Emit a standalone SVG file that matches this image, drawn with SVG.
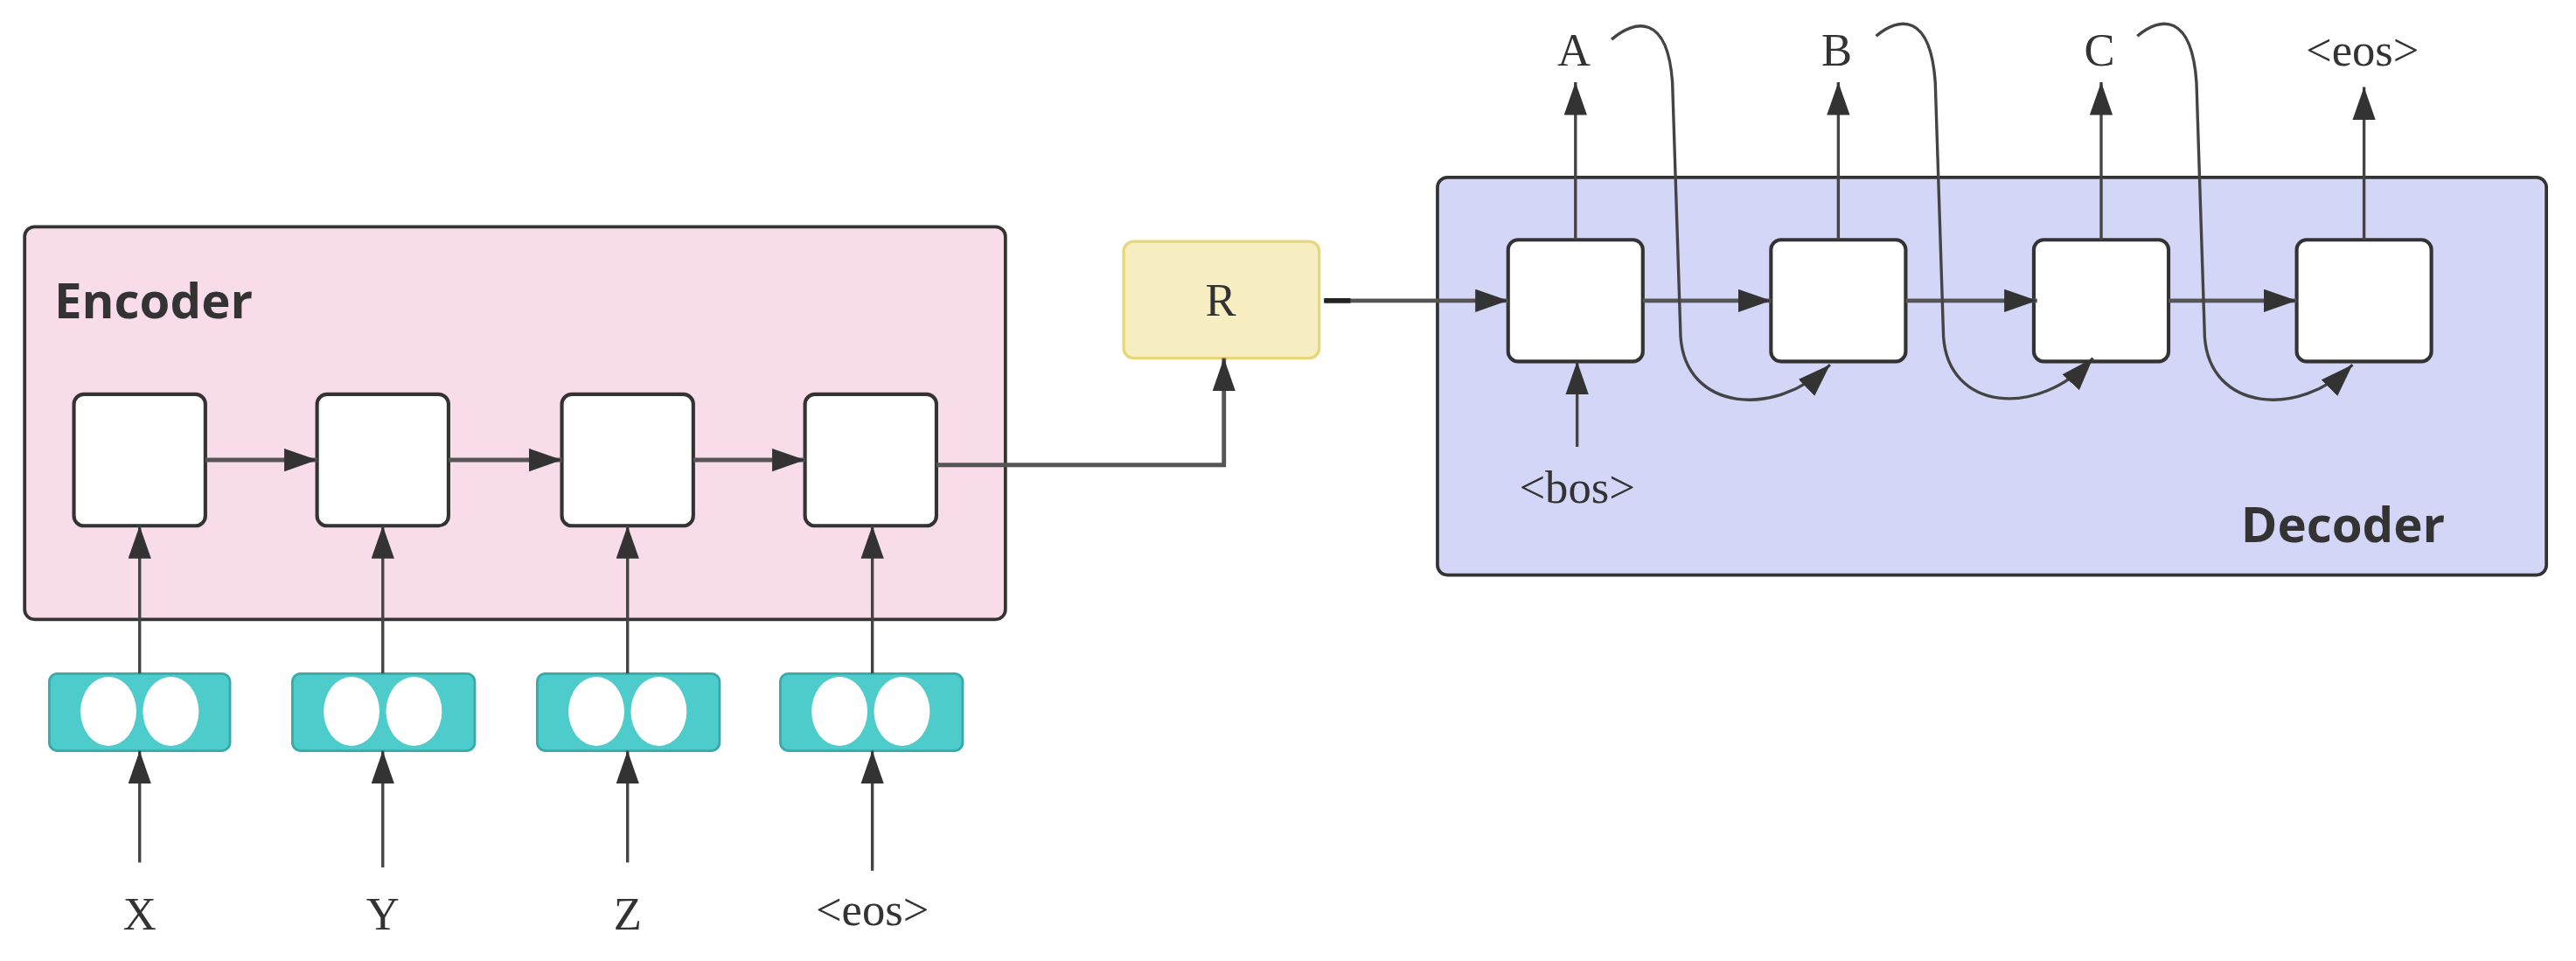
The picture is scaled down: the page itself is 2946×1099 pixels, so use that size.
<svg xmlns="http://www.w3.org/2000/svg" width="2946" height="1099" viewBox="0 0 2946 1099">
<defs>
<marker id="ah" markerUnits="userSpaceOnUse" markerWidth="22" markerHeight="16" refX="20" refY="7" orient="auto"><path d="M0,0 L20,7 L0,14 z" fill="#333"/></marker>
<style>
.cell{fill:#fff;stroke:#333;stroke-width:2.2}
.emb{fill:#4ecbcb;stroke:#3aa9a9;stroke-width:1.5}
.ov{fill:#fff}
.ln{fill:none;stroke:#444;stroke-width:1.8}
.thick{fill:none;stroke:#555;stroke-width:2.6}
.lbl{font-family:"Liberation Serif",serif;font-size:28px;fill:#333;text-anchor:middle}
.title{font-family:"Open Sans","Noto Sans",sans-serif;font-weight:bold;font-size:30px;fill:#333}
</style>
</defs>
<rect width="2946" height="1099" fill="#fff"/>
<g transform="scale(1.8788)">
<g id="encoder"><rect x="15" y="138" width="597" height="239" rx="6" fill="#f9dcea" stroke="#333" stroke-width="2"/><text class="title" x="33" y="194">Encoder</text></g>
<g id="decoder"><rect x="875" y="108" width="675" height="242" rx="6" fill="#d3d6f7" stroke="#333" stroke-width="2"/><text class="title" x="1364" y="330">Decoder</text></g>
<g id="enc1"><rect class="cell" x="45" y="240" width="80" height="80" rx="6"/></g>
<g id="enc2"><rect class="cell" x="193" y="240" width="80" height="80" rx="6"/></g>
<g id="enc3"><rect class="cell" x="342" y="240" width="80" height="80" rx="6"/></g>
<g id="enc4"><rect class="cell" x="490" y="240" width="80" height="80" rx="6"/></g>
<g id="emb1"><rect class="emb" x="30" y="410" width="110" height="47" rx="5"/><ellipse class="ov" cx="66" cy="433" rx="17" ry="21"/><ellipse class="ov" cx="104" cy="433" rx="17" ry="21"/></g>
<g id="emb2"><rect class="emb" x="178" y="410" width="111" height="47" rx="5"/><ellipse class="ov" cx="214" cy="433" rx="17" ry="21"/><ellipse class="ov" cx="252" cy="433" rx="17" ry="21"/></g>
<g id="emb3"><rect class="emb" x="327" y="410" width="111" height="47" rx="5"/><ellipse class="ov" cx="363" cy="433" rx="17" ry="21"/><ellipse class="ov" cx="401" cy="433" rx="17" ry="21"/></g>
<g id="emb4"><rect class="emb" x="475" y="410" width="111" height="47" rx="5"/><ellipse class="ov" cx="511" cy="433" rx="17" ry="21"/><ellipse class="ov" cx="549" cy="433" rx="17" ry="21"/></g>
<g id="in-labels"><text class="lbl" x="85" y="566">X</text><text class="lbl" x="233" y="566">Y</text><text class="lbl" x="382" y="566">Z</text><text class="lbl" x="531" y="563" font-size="22">&lt;eos&gt;</text></g>
<g id="R"><rect x="684" y="147" width="119" height="71" rx="6" fill="#f7efc1" stroke="#e8d77a" stroke-width="1.8"/><text class="lbl" x="743" y="192" font-size="24">R</text></g>
<g id="dec1"><rect class="cell" x="918" y="146" width="82" height="74" rx="6"/></g>
<g id="dec2"><rect class="cell" x="1078" y="146" width="82" height="74" rx="6"/></g>
<g id="dec3"><rect class="cell" x="1238" y="146" width="82" height="74" rx="6"/></g>
<g id="dec4"><rect class="cell" x="1398" y="146" width="82" height="74" rx="6"/></g>
<g id="out-labels"><text class="lbl" x="958" y="40">A</text><text class="lbl" x="1118" y="40">B</text><text class="lbl" x="1278" y="40">C</text><text class="lbl" x="1438" y="40" font-size="22">&lt;eos&gt;</text><text class="lbl" x="960" y="306" font-size="24">&lt;bos&gt;</text></g>
<g id="connectors">
<path class="ln" d="M85,525 V457" marker-end="url(#ah)"/><path class="ln" d="M233,528 V457" marker-end="url(#ah)"/><path class="ln" d="M382,525 V457" marker-end="url(#ah)"/><path class="ln" d="M531,530 V457" marker-end="url(#ah)"/>
<path class="ln" d="M85,410 V320" marker-end="url(#ah)"/><path class="ln" d="M233,410 V320" marker-end="url(#ah)"/><path class="ln" d="M382,410 V320" marker-end="url(#ah)"/><path class="ln" d="M531,410 V320" marker-end="url(#ah)"/>
<path class="thick" d="M125,280 H193" marker-end="url(#ah)"/><path class="thick" d="M273,280 H342" marker-end="url(#ah)"/><path class="thick" d="M422,280 H490" marker-end="url(#ah)"/>
<path class="thick" d="M570,283 H745 V218" marker-end="url(#ah)"/>
<path class="thick" d="M806,183 H918" marker-end="url(#ah)"/><path d="M806,183 H822" stroke="#222" stroke-width="3"/>
<path class="thick" d="M1000,183 H1078" marker-end="url(#ah)"/><path class="thick" d="M1160,183 H1240" marker-end="url(#ah)"/><path class="thick" d="M1320,183 H1398" marker-end="url(#ah)"/>
<path class="ln" d="M959,146 V50" marker-end="url(#ah)"/><path class="ln" d="M1119,146 V50" marker-end="url(#ah)"/><path class="ln" d="M1279,146 V50" marker-end="url(#ah)"/><path class="ln" d="M1439,146 V53" marker-end="url(#ah)"/>
<path class="ln" d="M960,272 V220" marker-end="url(#ah)"/>
<path class="ln" d="M981,24 C995,12 1015,8 1018,50 L1023,205 C1026,250 1080,255 1114,222" marker-end="url(#ah)"/>
<path class="ln" d="M1142,22 C1156,10 1175,8 1178,50 L1183,205 C1186,250 1240,255 1274,218" marker-end="url(#ah)"/>
<path class="ln" d="M1301,22 C1315,10 1334,8 1337,50 L1342,205 C1345,250 1399,255 1432,222" marker-end="url(#ah)"/>
</g>
</g>
</svg>
